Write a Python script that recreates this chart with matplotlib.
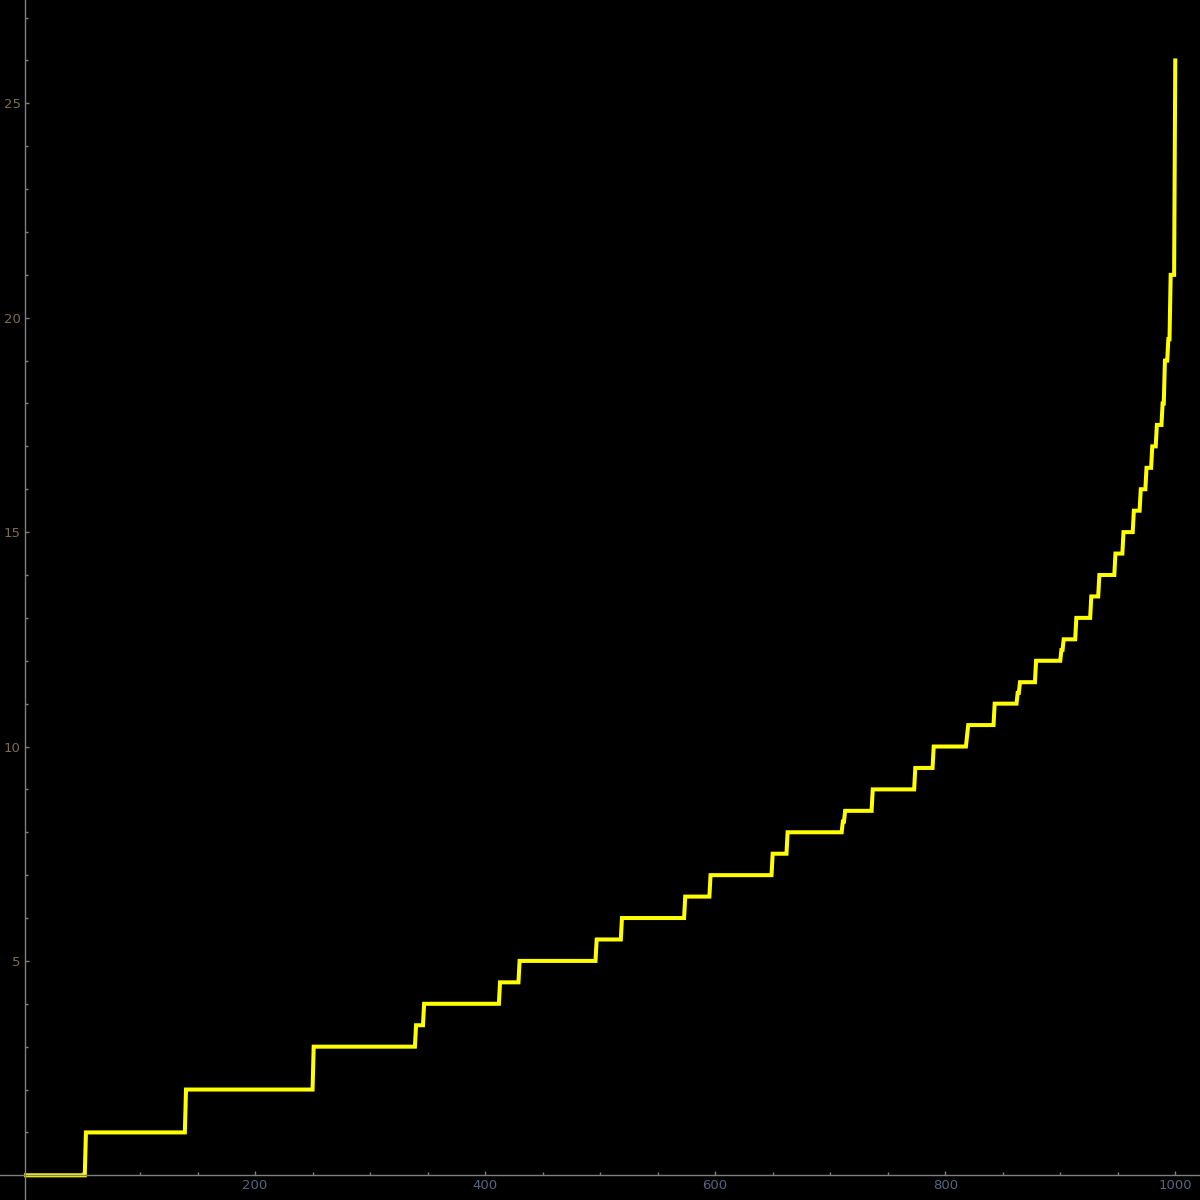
import matplotlib
matplotlib.use("Agg")
import matplotlib.pyplot as plt
from matplotlib.ticker import MultipleLocator

# ------------------- DATA ------------------- #
# sorted values: each level and the last index it holds
levels = [0, 1, 2, 3, 3.5, 4, 4.5, 5, 5.5, 6, 6.5, 7, 7.5, 8, 8.25, 8.5, 9, 9.5,
          10, 10.25, 10.5, 11, 11.25, 11.5, 12, 12.25, 12.5, 13, 13.5, 14, 14.5,
          15, 15.5, 16, 16.5, 17, 17.5, 18, 19, 19.5, 21, 26]
ends = [52, 139, 250, 339, 346, 412, 429, 496, 518, 573, 595, 649, 662, 710, 712,
        736, 773, 789, 818, 819, 842, 862, 864, 878, 900, 902, 913, 926, 933, 947,
        954, 963, 969, 974, 979, 983, 988, 990, 993, 995, 999, 1000]

x_ticks = [200, 400, 600, 800, 1000]
y_ticks = [5, 10, 15, 20, 25]

# build the polyline corners from the levels
xs, ys = [], []
start = 1
for lev, end in zip(levels, ends):
    xs += [start, end]
    ys += [lev, lev]
    start = end + 1

# ------------------- PLOT ------------------- #
fig = plt.figure(figsize=(12, 12), dpi=100, facecolor="black")
ax = fig.add_axes([0, 0, 1, 1], facecolor="black")

ax.plot(xs, ys, color="#ffff00", lw=2.9, solid_joinstyle="miter")

ax.set_xlim(-21.7, 1021.5)
ax.set_ylim(-0.576, 27.41)

axis_col = "#7f7f7f"
for side in ["top", "right"]:
    ax.spines[side].set_visible(False)
ax.spines["left"].set_position(("data", 0))
ax.spines["bottom"].set_position(("data", 0))
for side in ["left", "bottom"]:
    ax.spines[side].set_color(axis_col)
    ax.spines[side].set_linewidth(1.0)

ax.set_xticks(x_ticks)
ax.set_yticks(y_ticks)
ax.xaxis.set_minor_locator(MultipleLocator(50))
ax.yaxis.set_minor_locator(MultipleLocator(1))

ax.tick_params(which="major", direction="in", length=3.2, width=1, color=axis_col)
ax.tick_params(which="minor", direction="in", length=2.0, width=1, color=axis_col)
ax.tick_params(axis="x", labelsize=9.5, labelcolor="#56647e", pad=3)
ax.tick_params(axis="y", labelsize=9.5, labelcolor="#7c6c4e", pad=3)

fig.savefig("out.png", dpi=100, facecolor="black")
